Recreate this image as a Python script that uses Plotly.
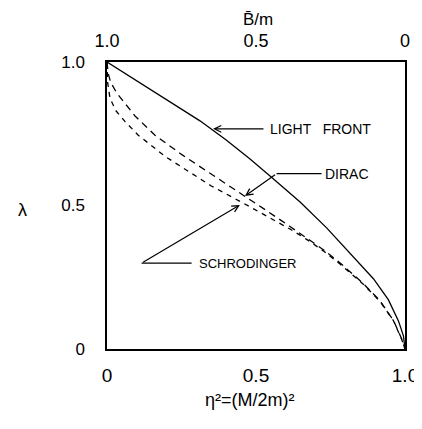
import plotly.graph_objects as go

# Data: lambda vs eta^2
eta2_lf = [0.0, 0.1, 0.2, 0.312, 0.4, 0.48, 0.547, 0.648, 0.737, 0.827, 0.894, 0.944, 0.978, 0.995, 1.0]
lam_lf = [1.0, 0.935, 0.868, 0.795, 0.728, 0.662, 0.603, 0.512, 0.422, 0.322, 0.245, 0.172, 0.098, 0.045, 0.0]

eta2_dirac = [0.0, 0.004, 0.012, 0.032, 0.094, 0.161, 0.25, 0.35, 0.456, 0.537, 0.614, 0.67, 0.726, 0.782, 0.838, 0.86, 0.916, 0.961, 0.989, 1.0]
lam_dirac = [1.0, 0.96, 0.93, 0.893, 0.812, 0.745, 0.678, 0.61, 0.537, 0.481, 0.427, 0.388, 0.346, 0.30, 0.25, 0.228, 0.168, 0.10, 0.035, 0.0]

eta2_schr = [0.0, 0.002, 0.01, 0.03, 0.06, 0.105, 0.195, 0.255, 0.35, 0.456, 0.537, 0.614, 0.67, 0.726, 0.782, 0.838, 0.86, 0.916, 0.961, 0.989, 1.0]
lam_schr = [1.0, 0.93, 0.874, 0.83, 0.793, 0.745, 0.671, 0.63, 0.568, 0.509, 0.462, 0.418, 0.382, 0.342, 0.296, 0.248, 0.226, 0.166, 0.099, 0.033, 0.0]

bottom_ticks = [0, 0.5, 1.0]
bottom_text = ["0", "0.5", "1.0"]
top_ticks = [1.0, 0.5, 0.0]
top_text = ["1.0", "0.5", "0"]
left_ticks = [0, 0.5, 1.0]
left_text = ["0", "0.5", "1.0"]

FONT = "Liberation Sans, Arial, Helvetica, sans-serif"

fig = go.Figure()
fig.add_trace(go.Scatter(x=eta2_lf, y=lam_lf, mode="lines",
                         line=dict(color="black", width=1.3),
                         showlegend=False, hoverinfo="skip"))
fig.add_trace(go.Scatter(x=eta2_dirac, y=lam_dirac, mode="lines",
                         line=dict(color="black", width=1.3, dash="7px,5px"),
                         showlegend=False, hoverinfo="skip"))
fig.add_trace(go.Scatter(x=eta2_schr, y=lam_schr, mode="lines",
                         line=dict(color="black", width=1.3, dash="5px,5px"),
                         showlegend=False, hoverinfo="skip"))
# invisible trace for top axis
fig.add_trace(go.Scatter(x=[0, 1], y=[0, 0], xaxis="x2", mode="markers",
                         marker=dict(opacity=0), showlegend=False, hoverinfo="skip"))

def label(text, x, y, size=14):
    fig.add_annotation(x=x, y=y, xref="x", yref="y", text=text, showarrow=False,
                       xanchor="left", yanchor="middle",
                       font=dict(family=FONT, size=size, color="black"))

def arrow(x, y, ax, ay):
    fig.add_annotation(x=x, y=y, ax=ax, ay=ay, xref="x", yref="y", axref="x", ayref="y",
                       text="", showarrow=True, arrowhead=5, arrowsize=1.1,
                       arrowwidth=1.2, arrowcolor="black")

def seg(x0, y0, x1, y1):
    fig.add_shape(type="line", x0=x0, y0=y0, x1=x1, y1=y1, xref="x", yref="y",
                  line=dict(color="black", width=1.2))

label("LIGHT   FRONT", 0.540, 0.765)
arrow(0.356, 0.767, 0.530, 0.767)

label("DIRAC", 0.725, 0.61)
seg(0.720, 0.611, 0.569, 0.611)
arrow(0.463, 0.533, 0.569, 0.611)

label("SCHRODINGER", 0.301, 0.299, size=13)
seg(0.284, 0.299, 0.116, 0.299)
arrow(0.446, 0.502, 0.116, 0.299)

# Axis titles
def title(text, x, y, size=18):
    fig.add_annotation(x=x, y=y, xref="paper", yref="paper", text=text,
                       showarrow=False, xanchor="center", yanchor="middle",
                       font=dict(family=FONT, size=size, color="black"))

title("λ", -0.285, 0.484)
title("B\u0304/m", 0.507, 1.148, size=17)
title("η²=(M/2m)²", 0.48, -0.178)

# page body has an 8px default margin, so the figure is 8px smaller
fig.update_layout(
    width=414, height=421,
    margin=dict(l=99, r=17, t=54, b=80, autoexpand=False),
    paper_bgcolor="white", plot_bgcolor="white",
    xaxis=dict(range=[0, 1], tickvals=bottom_ticks, ticktext=bottom_text,
               showgrid=False, zeroline=False, showline=True, mirror=True,
               linecolor="black", linewidth=1.5, ticks="", ticklabelstandoff=8,
               automargin=False,
               tickfont=dict(family=FONT, size=19, color="black")),
    xaxis2=dict(range=[1, 0], overlaying="x", side="top", anchor="y",
                tickvals=top_ticks, ticktext=top_text, showgrid=False, zeroline=False,
                showline=False, ticks="", ticklabelstandoff=10, automargin=False,
                tickfont=dict(family=FONT, size=18, color="black")),
    yaxis=dict(range=[0, 1], tickvals=left_ticks, ticktext=left_text,
               showgrid=False, zeroline=False, showline=True, mirror=True,
               linecolor="black", linewidth=1.5, ticks="", ticklabelstandoff=17,
               automargin=False,
               tickfont=dict(family=FONT, size=17, color="black")),
)

fig.write_html("out.html")
